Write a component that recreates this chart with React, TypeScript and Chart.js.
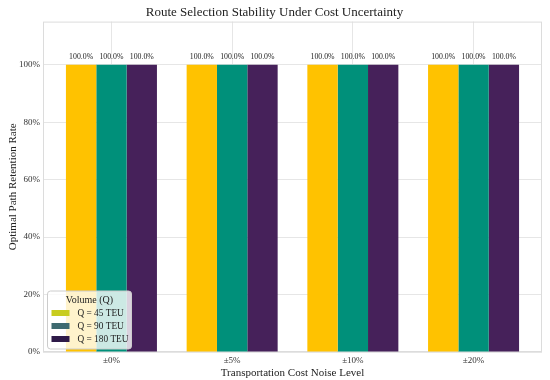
import React, { useEffect, useRef } from "react";
import { Chart, registerables } from "chart.js";

Chart.register(...registerables);

const noiseLevels = ["±0%", "±5%", "±10%", "±20%"];
const q45Retention = [1.0, 1.0, 1.0, 1.0];
const q90Retention = [1.0, 1.0, 1.0, 1.0];
const q180Retention = [1.0, 1.0, 1.0, 1.0];
const seriesLabels = ["Q = 45 TEU", "Q = 90 TEU", "Q = 180 TEU"];
const yTicks = [0, 0.2, 0.4, 0.6, 0.8, 1.0];

const barColors = ["#FFC200", "#00907A", "#46215A"];
const legendColors = ["#C8CC1E", "#3E6A70", "#2E1A48"];
const SERIF = "'Liberation Serif', 'DejaVu Serif', serif";

const framePlugin = {
  id: "frame",
  beforeDatasetsDraw(chart: any) {
    const { ctx, chartArea } = chart;
    ctx.save();
    ctx.strokeStyle = "#dcdcdc";
    ctx.lineWidth = 1;
    ctx.strokeRect(chartArea.left + 0.5, chartArea.top + 0.5, chartArea.right - chartArea.left - 1, chartArea.bottom - chartArea.top - 1);
    ctx.restore();
  },
};

const valueLabelPlugin = {
  id: "valueLabels",
  afterDatasetsDraw(chart: any) {
    const { ctx } = chart;
    ctx.save();
    ctx.font = `7.8px ${SERIF}`;
    ctx.fillStyle = "#222";
    ctx.textAlign = "center";
    ctx.textBaseline = "bottom";
    chart.data.datasets.forEach((ds: any, i: number) => {
      const meta = chart.getDatasetMeta(i);
      meta.data.forEach((bar: any, j: number) => {
        const v = ds.data[j].y;
        ctx.fillText((v * 100).toFixed(1) + "%", bar.x, bar.y - 4);
      });
    });
    ctx.restore();
  },
};

const legendPlugin = {
  id: "innerLegend",
  afterDraw(chart: any) {
    const { ctx, chartArea } = chart;
    const left = chartArea.left + 4.5;
    const bottom = chartArea.bottom - 3;
    const w = 84;
    const h = 58;
    const top = bottom - h;
    ctx.save();
    ctx.beginPath();
    if (ctx.roundRect) ctx.roundRect(left, top, w, h, 3);
    else ctx.rect(left, top, w, h);
    ctx.fillStyle = "rgba(255,255,255,0.8)";
    ctx.fill();
    ctx.strokeStyle = "#cccccc";
    ctx.lineWidth = 1;
    ctx.stroke();
    ctx.fillStyle = "#222";
    ctx.font = `10px ${SERIF}`;
    ctx.textAlign = "center";
    ctx.textBaseline = "middle";
    ctx.fillText("Volume (Q)", left + w / 2, top + 9.5);
    ctx.font = `9.3px ${SERIF}`;
    ctx.textAlign = "left";
    seriesLabels.forEach((lab, i) => {
      const cy = top + 22 + i * 13;
      ctx.fillStyle = legendColors[i];
      ctx.fillRect(left + 4, cy - 3, 18, 6);
      ctx.fillStyle = "#222";
      ctx.fillText(lab, left + 30, cy + 0.5);
    });
    ctx.restore();
  },
};

export default function App() {
  const ref = useRef<HTMLCanvasElement | null>(null);
  useEffect(() => {
    document.body.style.margin = "0";
    const series = [q45Retention, q90Retention, q180Retention];
    const chart = new Chart(ref.current as HTMLCanvasElement, {
      type: "bar",
      data: {
        datasets: series.map((vals, i) => ({
          label: seriesLabels[i],
          data: vals.map((v, j) => ({ x: j, y: v })),
          backgroundColor: barColors[i],
          borderWidth: 0,
          categoryPercentage: 0.754,
          barPercentage: 1.0,
        })),
      },
      options: {
        responsive: false,
        animation: false,
        layout: { padding: { left: 7, right: 8, top: 0, bottom: 0 } },
        plugins: {
          legend: { display: false },
          tooltip: { enabled: false },
          title: {
            display: true,
            text: "Route Selection Stability Under Cost Uncertainty",
            color: "#222",
            font: { family: SERIF, size: 13, weight: "normal" },
            padding: { top: 5, bottom: 1 },
          },
        },
        scales: {
          x: {
            type: "linear",
            offset: false,
            min: -0.567,
            max: 3.567,
            afterBuildTicks: (s: any) => {
              s.ticks = noiseLevels.map((_, i) => ({ value: i }));
            },
            ticks: {
              callback: (v: any) => noiseLevels[v] ?? "",
              color: "#333",
              font: { family: SERIF, size: 9 },
              padding: 3,
              maxRotation: 0,
            },
            grid: { color: "#e6e6e6", drawTicks: false, offset: false },
            border: { display: false },
            title: {
              display: true,
              text: "Transportation Cost Noise Level",
              color: "#222",
              font: { family: SERIF, size: 11 },
              padding: { top: -2, bottom: 0 },
            },
          },
          y: {
            min: 0,
            max: 1.15,
            afterBuildTicks: (s: any) => {
              s.ticks = yTicks.map((v) => ({ value: v }));
            },
            afterFit: (s: any) => {
              s.width = 36;
            },
            ticks: {
              callback: (v: any) => (Number(v) * 100).toFixed(0) + "%",
              color: "#333",
              font: { family: SERIF, size: 9 },
              padding: 3,
            },
            grid: { color: "#e6e6e6", drawTicks: false },
            border: { display: false },
            title: {
              display: true,
              text: "Optimal Path Retention Rate",
              color: "#222",
              font: { family: SERIF, size: 11 },
              padding: { top: 0, bottom: 0 },
            },
          },
        },
      },
      plugins: [framePlugin, valueLabelPlugin, legendPlugin],
    } as any);
    return () => chart.destroy();
  }, []);
  return (
    <div style={{ width: 550, height: 380 }}>
      <canvas ref={ref} width={550} height={380} />
    </div>
  );
}
